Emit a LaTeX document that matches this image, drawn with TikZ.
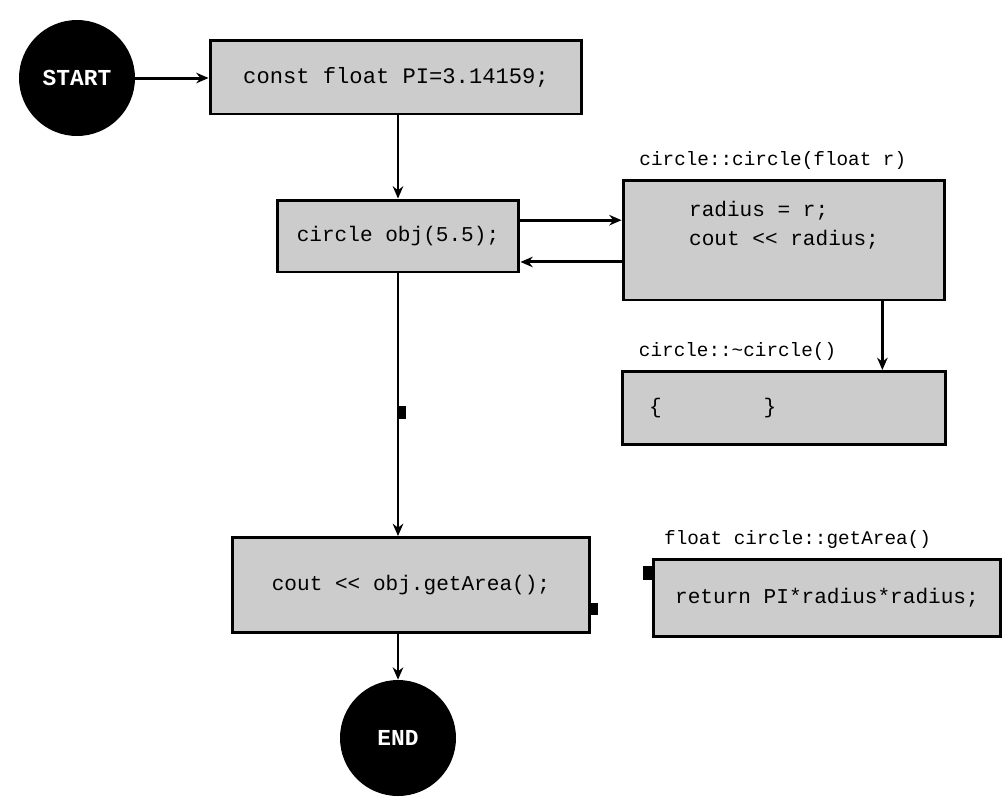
\documentclass[tikz,border=0pt]{standalone}
\usepackage{fontspec}
\setmonofont{Liberation Mono}
\usetikzlibrary{arrows.meta,decorations.markings}
\tikzset{
  term/.style={circle,fill=black,text=white,minimum size=2.32cm,inner sep=0pt,
    font=\ttfamily\bfseries\fontsize{13}{15}\selectfont},
  codebox/.style={draw=black,fill=gray!40,line width=1.7pt,inner sep=4pt,
    font=\ttfamily\fontsize{12}{16}\selectfont},
  fnlabel/.style={anchor=south west,inner sep=0pt,
    font=\ttfamily\fontsize{11}{13}\selectfont},
  midmark/.style={postaction={decorate},decoration={markings,
    mark=at position 0.53 with {\fill (-3.5pt,0.7pt) rectangle (3.5pt,4.5pt);}}},
}
\begin{document}
\begin{tikzpicture}[x=0.02cm,y=-0.02cm]
      \useasboundingbox (0,0) rectangle (1004,796);
      \draw
        (77,78) node[term] (start){START}
        (396,77) node[codebox,minimum width=7.44cm,minimum height=1.48cm,font=\ttfamily\fontsize{12.6}{16}\selectfont] (pi){const float PI=3.14159;}
        (398,236) node[codebox,minimum width=4.84cm,minimum height=1.44cm] (obj){circle obj(5.5);}
        (784,240) node[codebox,minimum width=6.44cm,minimum height=2.4cm,align=left] (ctor){radius = r;\\cout << radius;\\[3pt]}
        (784,408) node[codebox,minimum width=6.46cm,minimum height=1.46cm,text width=6.1cm,align=left] (dtor){\hspace{10pt}\{\hspace{58pt}\}}
        (411,585) node[codebox,minimum width=7.16cm,minimum height=1.9cm] (cout){cout << obj.getArea();}
        (827,598) node[codebox,minimum width=6.96cm,minimum height=1.54cm] (area){return PI*radius*radius;}
        (398,738) node[term] (end){END};
      \node[fnlabel] (ctorlbl) at ([xshift=10pt,yshift=5pt]ctor.north west) {circle::circle(float r)};
      \node[fnlabel] (dtorlbl) at ([xshift=10pt,yshift=5pt]dtor.north west) {circle::\textasciitilde circle()};
      \node[fnlabel] (arealbl) at ([xshift=7pt,yshift=5pt]area.north west) {float circle::getArea()};
      \begin{scope}[line width=1.7pt,-{Stealth[length=7pt,width=6pt]}]
        \draw (start) -- (start -| pi.west);
        \draw (pi.south -| obj) -- (obj);
        \draw ([yshift=9pt]obj.east) -- ([yshift=9pt]obj.east -| ctor.west);
        \draw ([yshift=-12.5pt]ctor.west) -- ([yshift=-12.5pt]ctor.west -| obj.east);
        \draw ([xshift=56pt]ctor.south) -- ([xshift=56pt]ctor.south |- dtor.north);
        \draw[midmark] (obj.south) -- (obj.south |- cout.north);
        \draw (cout.south -| end) -- (end);
      \end{scope}
      \fill ([yshift=-10.5pt]cout.east) rectangle ([xshift=4pt,yshift=-17pt]cout.east);
      \fill ([xshift=-5pt,yshift=18pt]area.west) rectangle ([yshift=10pt]area.west);
    \end{tikzpicture}
\end{document}
